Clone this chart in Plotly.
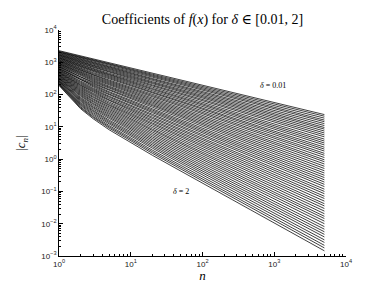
import plotly.graph_objects as go

# knot positions (coefficient index n) where each curve's value was read
n_knots = [1, 2, 3, 5, 20, 5000]

# log10 |c_n| for each of the 61 curves (delta from 0.01 at top to 2 at bottom)
log10_c_n1 = [3.36, 3.34, 3.32, 3.31, 3.29, 3.27, 3.25, 3.23, 3.22, 3.20, 3.18, 3.16, 3.14, 3.13, 3.11,
              3.09, 3.07, 3.05, 3.04, 3.02, 3.00, 2.98, 2.96, 2.95, 2.93, 2.91, 2.89, 2.87, 2.86, 2.84,
              2.82, 2.80, 2.78, 2.77, 2.75, 2.73, 2.71, 2.69, 2.68, 2.66, 2.64, 2.62, 2.60, 2.59, 2.57,
              2.55, 2.53, 2.51, 2.50, 2.48, 2.46, 2.44, 2.42, 2.41, 2.39, 2.37, 2.35, 2.33, 2.32, 2.30, 2.28]
log10_c_n2 = [3.20, 3.18, 3.16, 3.14, 3.11, 3.09, 3.07, 3.05, 3.02, 3.00, 2.98, 2.96, 2.93, 2.91, 2.88,
              2.86, 2.84, 2.81, 2.79, 2.76, 2.74, 2.71, 2.69, 2.66, 2.63, 2.61, 2.58, 2.55, 2.53, 2.50,
              2.47, 2.45, 2.42, 2.39, 2.36, 2.33, 2.30, 2.28, 2.25, 2.22, 2.19, 2.16, 2.13, 2.10, 2.07,
              2.04, 2.01, 1.98, 1.95, 1.91, 1.88, 1.85, 1.82, 1.79, 1.75, 1.72, 1.69, 1.66, 1.62, 1.59, 1.56]
log10_c_n3 = [3.10, 3.08, 3.06, 3.04, 3.01, 2.99, 2.96, 2.94, 2.91, 2.89, 2.86, 2.84, 2.81, 2.79, 2.76,
              2.73, 2.71, 2.68, 2.65, 2.62, 2.60, 2.57, 2.54, 2.51, 2.48, 2.45, 2.42, 2.39, 2.36, 2.33,
              2.30, 2.27, 2.24, 2.20, 2.17, 2.14, 2.11, 2.08, 2.04, 2.01, 1.98, 1.94, 1.91, 1.87, 1.84,
              1.80, 1.77, 1.73, 1.70, 1.66, 1.62, 1.59, 1.55, 1.51, 1.48, 1.44, 1.40, 1.36, 1.32, 1.29, 1.25]
log10_c_n5 = [2.99, 2.96, 2.94, 2.91, 2.88, 2.86, 2.83, 2.80, 2.78, 2.75, 2.72, 2.69, 2.66, 2.63, 2.61,
              2.58, 2.55, 2.52, 2.49, 2.45, 2.42, 2.39, 2.36, 2.33, 2.30, 2.26, 2.23, 2.20, 2.16, 2.13,
              2.09, 2.06, 2.02, 1.99, 1.95, 1.92, 1.88, 1.84, 1.81, 1.77, 1.73, 1.69, 1.66, 1.62, 1.58,
              1.54, 1.50, 1.46, 1.42, 1.38, 1.34, 1.30, 1.26, 1.21, 1.17, 1.13, 1.09, 1.04, 1.00, 0.96, 0.91]
log10_c_n20 = [2.66, 2.63, 2.60, 2.57, 2.54, 2.50, 2.47, 2.44, 2.40, 2.37, 2.34, 2.30, 2.27, 2.23, 2.19,
               2.16, 2.12, 2.08, 2.05, 2.01, 1.97, 1.93, 1.89, 1.85, 1.81, 1.77, 1.73, 1.69, 1.65, 1.61,
               1.56, 1.52, 1.48, 1.44, 1.39, 1.35, 1.30, 1.26, 1.21, 1.17, 1.12, 1.08, 1.03, 0.98, 0.93,
               0.89, 0.84, 0.79, 0.74, 0.69, 0.64, 0.59, 0.54, 0.49, 0.44, 0.39, 0.34, 0.28, 0.23, 0.18, 0.12]
log10_c_n5000 = [1.38, 1.33, 1.27, 1.21, 1.16, 1.10, 1.04, 0.98, 0.93, 0.87, 0.81, 0.75, 0.69, 0.62, 0.56,
                 0.50, 0.44, 0.37, 0.31, 0.25, 0.18, 0.12, 0.05, -0.02, -0.08, -0.15, -0.22, -0.29, -0.36, -0.43,
                 -0.50, -0.57, -0.64, -0.71, -0.78, -0.85, -0.93, -1.00, -1.07, -1.15, -1.22, -1.30, -1.38, -1.45, -1.53,
                 -1.61, -1.69, -1.77, -1.84, -1.92, -2.00, -2.09, -2.17, -2.25, -2.33, -2.41, -2.50, -2.58, -2.67, -2.75, -2.84]

knot_arrays = [log10_c_n1, log10_c_n2, log10_c_n3, log10_c_n5, log10_c_n20, log10_c_n5000]

x_tick_vals = [1, 10, 100, 1000, 10000]
x_tick_text = ["10<sup>0</sup>", "10<sup>1</sup>", "10<sup>2</sup>", "10<sup>3</sup>", "10<sup>4</sup>"]
y_tick_vals = [1e-3, 1e-2, 1e-1, 1, 10, 100, 1000, 10000]
y_tick_text = ["10<sup>−3</sup>", "10<sup>−2</sup>", "10<sup>−1</sup>", "10<sup>0</sup>",
               "10<sup>1</sup>", "10<sup>2</sup>", "10<sup>3</sup>", "10<sup>4</sup>"]

fig = go.Figure()
for k in range(len(log10_c_n1)):
    ys = [10 ** arr[k] for arr in knot_arrays]
    fig.add_trace(go.Scatter(x=n_knots, y=ys, mode="lines",
                             line=dict(color="black", width=0.75),
                             showlegend=False, hoverinfo="skip"))

serif = "Liberation Serif, DejaVu Serif, serif"
sans = "Liberation Sans, Arial, sans-serif"

fig.update_layout(
    width=374, height=282,
    margin=dict(l=49, r=36, t=22, b=32),
    paper_bgcolor="white", plot_bgcolor="white",
    title=dict(text="Coefficients of <i>f</i>(<i>x</i>) for <i>δ</i> ∈ [0.01, 2]",
               x=0.52, xanchor="center", y=0.96, yanchor="middle",
               font=dict(family=serif, size=14, color="black")),
    xaxis=dict(type="log", range=[0, 4], tickvals=x_tick_vals, ticktext=x_tick_text,
               ticks="inside", ticklen=4, tickwidth=0.6, tickcolor="black",
               showline=True, linecolor="black", linewidth=0.8, showgrid=False, zeroline=False,
               minor=dict(ticks="inside", ticklen=2, tickcolor="black", tickwidth=0.5, dtick="D1", showgrid=False),
               tickfont=dict(family=sans, size=8, color="#222"),
               title=dict(text="<i>n</i>", font=dict(family=serif, size=13, color="black"), standoff=0)),
    yaxis=dict(type="log", range=[-3, 4], tickvals=y_tick_vals, ticktext=y_tick_text,
               ticks="inside", ticklen=4, tickwidth=0.6, tickcolor="black",
               showline=True, linecolor="black", linewidth=0.8, showgrid=False, zeroline=False,
               minor=dict(ticks="inside", ticklen=2, tickcolor="black", tickwidth=0.5, dtick="D1", showgrid=False),
               tickfont=dict(family=sans, size=8, color="#222"),
               title=dict(text="|<i>c<sub>n</sub></i>|", font=dict(family=serif, size=13, color="black"), standoff=12)),
    annotations=[
        dict(x=2.98, y=2.28, xref="x", yref="y", text="<i>δ</i> = 0.01", showarrow=False,
             font=dict(family=serif, size=8, color="black")),
        dict(x=1.70, y=-1.0, xref="x", yref="y", text="<i>δ</i> = 2", showarrow=False,
             font=dict(family=serif, size=8, color="black")),
    ],
)

fig.write_html("out.html")
